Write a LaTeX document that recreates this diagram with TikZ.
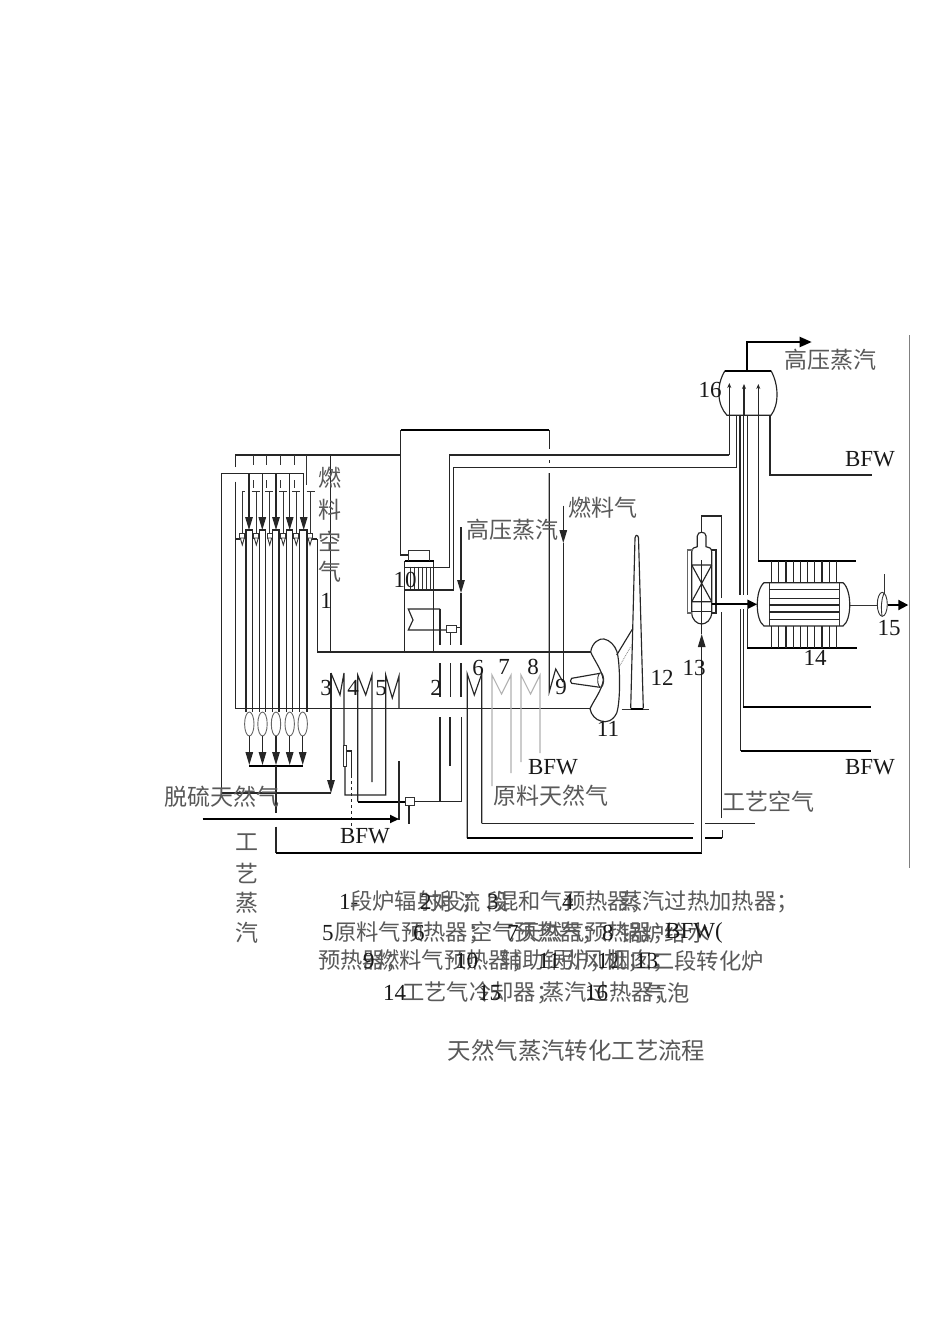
\documentclass[tikz,border=0pt]{standalone}
\usepackage{fontspec}
\setmainfont{Liberation Serif}
\newfontfamily\cjk{Noto Sans CJK SC}
\usetikzlibrary{arrows.meta}
\tikzset{
 ln/.style={draw=black!85,line width=1.15pt},
 thin ln/.style={draw=black!80,line width=0.9pt},
 thk/.style={draw=black,line width=2pt},
 pale/.style={draw=black!30,line width=1.1pt},
 arr/.style={-{Triangle[length=13pt,width=7.5pt]}},
 lab/.style={inner sep=0pt,font=\fontsize{23}{23}\selectfont,text=black!90},
 cn/.style={inner sep=0pt,font=\cjk\fontsize{23}{23}\selectfont,text=black!65},
 captxt/.style={inner sep=0pt,anchor=west,font=\cjk\fontsize{22.3}{22.3}\selectfont,text=black!65},
 capn/.style={inner sep=0pt,anchor=west,font=\fontsize{23}{23}\selectfont,text=black!90},
}
\begin{document}
\begin{tikzpicture}[x=1pt,y=-1pt]
\useasboundingbox (0,0) rectangle (950,1344);
\fill[white] (0,0) rectangle (950,1344);
% page edge
\draw[draw=black!50,line width=0.8pt] (909,335) -- (909,868);
% furnace
\draw[ln] (317.3,539) -- (317.3,652) -- (590.7,652);
\draw[ln] (235.7,708.7) -- (590,708.7);
\draw[ln] (235.7,539) -- (235.7,708.7);
\draw[ln] (330.3,455) -- (330.3,652);
% headers
\draw[ln] (235.7,467) -- (235.7,455) -- (400.7,455);
\foreach \x/\e in {253.7/465,266.7/465,280/465,294/465,306/485}{\draw[thin ln] (\x,455) -- (\x,\e);}
\foreach \x in {253.7,266.7,280,294}{\draw[thin ln] (\x,480) -- (\x,488);}
\draw[ln] (235.7,481.7) -- (235.7,539) -- (240,539);
\draw[ln] (310,539) -- (317.3,539);
\draw[ln] (331,793) -- (221.7,793) -- (221.7,473.7) -- (304,473.7);
% arrows into tubes
\foreach \x in {249,262.3,276,289.7,303.7}{\draw[ln,arr] (\x,473.7) -- (\x,530);}
% thin lines + T caps
\foreach \x/\a/\b in {242.3/242/245,256.3/251.7/260,269.7/265/273,283.3/279/287.3,296.3/292.3/300,310/306.7/315}{
 \draw[thin ln] (\x,491) -- (\x,533);
 \draw[thin ln] (\a,491) -- (\b,491);
 \draw[thin ln,fill=white] (\x-2.5,533) rectangle (\x+2.5,538);
 \draw[thin ln,fill=white] (\x-2,538) -- (\x+2,538) -- (\x,545) -- cycle;
}
% tubes
\foreach \a/\b in {246/252.3,259.3/265.7,272.7/279,286.3/292.7,299.3/307}{
 \draw[ln] (\a,712) -- (\a,530) -- (\b,530) -- (\b,712);
}
% ovals + lower arrows
\foreach \x in {249.3,262.5,276,289.7,302.7}{
 \draw[thin ln,draw=black!60] (\x,724) ellipse (4.7 and 12);
 \draw[ln,arr] (\x,736) -- (\x,765);
}
\draw[thk] (249.3,766) -- (302.7,766);
\draw[ln] (276,766) -- (276,813);
\draw[ln] (276,826.7) -- (276,852.7);
\draw[thk] (276,852.7) -- (701.7,852.7);
\draw[ln,arr] (701.7,852.7) -- (701.7,634);
\draw[ln] (701.7,634) -- (701.7,623);
% 3 4 5 coils
\draw[ln,arr] (331,673) -- (331,793);
\draw[ln] (331,673) -- (340,695) -- (344,673) -- (344,745);
\draw[thin ln,fill=white] (343,745) rectangle (346.5,766);
\draw[ln] (346.5,751) -- (351.7,751) -- (351.7,775);
\draw[ln,dashed] (351.7,775) -- (351.7,833);
\draw[ln] (345,766) -- (345,795) -- (385.7,795) -- (385.7,675) -- (392.3,698) -- (399,676) -- (399,708);
\draw[ln] (357.7,801.7) -- (357.7,675) -- (365.7,695) -- (372,675) -- (372,782);
\draw[thk] (357.7,801.7) -- (405,801.7);
\draw[ln] (399,761) -- (399,820);
\draw[thk,-{Triangle[length=9pt,width=8pt]}] (202.7,819) -- (399,819);
\draw[thin ln,fill=white] (405,797.7) rectangle (414.3,805.7);
\draw[ln] (409,805.7) -- (409,824);
% 2 section
\draw[ln] (414.3,801.7) -- (461.7,801.7) -- (461.7,717);
\draw[ln] (440,801.7) -- (440,717);
\draw[ln] (450,717) -- (450,766);
\foreach \x in {440,450.7,461}{\draw[ln] (\x,663) -- (\x,697);}
\draw[ln] (440,609) -- (440,645);
\draw[ln] (450.7,633) -- (450.7,645);
\draw[ln] (461,627.7) -- (461,645);
\draw[ln,arr] (461,527) -- (461,593);
\draw[ln] (461,593) -- (461,627.7) -- (456,627.7);
\draw[thin ln,fill=white] (446,625) rectangle (456,632.7);
\draw[ln] (446,630) -- (408.3,630) -- (413,620) -- (408.3,609) -- (440,609);
% fan stack 10
\draw[ln] (404.5,652) -- (404.5,561);
\draw[ln] (433.7,652) -- (433.7,561);
\draw[thk] (404.5,561) -- (433.7,561);
\draw[thin ln] (408.3,561) -- (408.3,550.7) -- (429.3,550.7) -- (429.3,561);
\foreach \x in {410,414,418,422,426,430}{\draw[thin ln] (\x,566.7) -- (\x,590);}
\draw[ln] (404.5,590) -- (453.3,590) -- (453.3,467.3) -- (736.7,467.3) -- (736.7,415);
\draw[ln] (404.5,567.7) -- (449.3,567.7) -- (449.3,455) -- (729.3,455);
\draw[ln,-{Stealth[length=5pt,width=4pt]}] (729.3,455) -- (729.3,383);
\draw[ln] (408.3,555) -- (400.7,555) -- (400.7,430);
\draw[thk] (400.7,430) -- (549.3,430);
\draw[ln] (549.3,430) -- (549.3,449);
\draw[ln] (549.3,460) -- (549.3,463);
\draw[ln] (549.3,473) -- (549.3,691.7) -- (555.7,669) -- (563,682);
\draw[ln,arr] (563.3,505.7) -- (563.3,543);
\draw[ln] (563.3,543) -- (563.3,682);
% 6 7 8
\draw[ln] (481.7,823.3) -- (481.7,674) -- (474.3,695) -- (467.3,674) -- (467.3,838);
\draw[thk] (467.3,838) -- (693.3,838);
\draw[thk] (705,838) -- (722.3,838);
\draw[ln] (722.3,838) -- (722.3,830);
\draw[ln] (481.7,823.3) -- (694.3,823.3);
\draw[ln] (705,823.3) -- (755,823.3);
\draw[pale] (492,786) -- (492,675) -- (501.5,694) -- (511,675) -- (511,773);
\draw[pale] (521,762) -- (521,675) -- (530.5,694) -- (540,675) -- (540,753);
% fan 11
\draw[ln] (590.7,652) .. controls (592,642) and (600,638) .. (604,639)
 .. controls (610,640) and (615,646) .. (616.7,651)
 .. controls (620,660) and (621,700) .. (616.7,713)
 .. controls (613,721) and (606,723) .. (601,721)
 .. controls (596,720) and (591,715) .. (590,708.7)
 .. controls (594,700) and (602,690) .. (603.3,680)
 .. controls (602,670) and (594,660) .. (590.7,652) -- cycle;
\draw[thin ln] (600.7,680) ellipse (3 and 7.2);
\draw[ln] (600,673.3) -- (571.7,678.3) .. controls (570,680) and (570,682) .. (571.7,683.3) -- (600,687.3);
% chimney 12
\draw[ln] (630.7,708.3) -- (635,538) .. controls (635.5,534.5) and (638,534.5) .. (638.5,538) -- (643.3,708.3);
\draw[thin ln] (621.7,709.3) -- (649.3,709.3);
\draw[thk] (630.7,708.6) -- (643.3,708.6);
\draw[ln] (616.7,655) -- (632.3,629.3);
\draw[draw=black!50,line width=0.8pt,densely dotted] (618.3,668.3) -- (630.7,646.7);
% tower 13
\draw[ln] (721.7,818) -- (721.7,611.7);
\draw[ln] (721.7,598) -- (721.7,516) -- (701.7,516) -- (701.7,531.7);
\draw[ln] (691.7,612) -- (691.7,552) .. controls (691.7,548) and (695,547) .. (697.3,546.7)
 -- (697.3,536) .. controls (697.3,531) and (706,531) .. (706,536) -- (706,546.7)
 .. controls (709,547) and (711.7,548) .. (711.7,552) -- (711.7,612)
 .. controls (711.7,620) and (706,624) .. (701.7,624) .. controls (697,624) and (691.7,620) .. (691.7,612) -- cycle;
\draw[ln] (691.7,565) -- (711.7,565) (691.7,601.7) -- (711.7,601.7) (691.7,565) -- (711.7,601.7) (711.7,565) -- (691.7,601.7);
\draw[ln] (691.7,611.7) -- (711.7,611.7);
\draw[ln] (701.7,560) -- (701.7,623);
\draw[draw=black!60,line width=1.6pt] (693,550) -- (687.5,550) -- (687.5,613) -- (692,613);
\draw[ln] (711,550) -- (716,550) -- (716,613) -- (711,613);
\draw[thk,-{Triangle[length=10pt,width=9pt]}] (711.7,604.3) -- (757.3,604.3);
% 16 drum
\draw[ln] (725,370.7) .. controls (716,385) and (717,405) .. (727,415.3) -- (771,415.3) .. controls (779,405) and (779,385) .. (771,370.7);
\draw[thk] (725,370.7) -- (771,370.7);
\draw[ln,-{Stealth[length=5pt,width=4pt]}] (744,415) -- (744,384);
\foreach \x in {740,743.5,747.5}{
 \draw[ln] (\x,415) -- (\x,595);
}
\draw[ln,-{Stealth[length=5pt,width=4pt]}] (758.3,560.7) -- (758.3,384);
\draw[thk] (758.3,560.7) -- (856,560.7);
\draw[ln] (770,415) -- (770,475) -- (871.7,475);
\draw[thk,-{Triangle[length=12pt,width=10pt]}] (747.3,370.7) -- (747.3,342) -- (811.7,342);
% lower service lines
\draw[ln] (740.7,609) -- (740.7,750.7);
\draw[thk] (740.7,750.7) -- (870.7,750.7);
\draw[ln] (743.3,609) -- (743.3,706.7);
\draw[thk] (743.3,706.7) -- (870.7,706.7);
\draw[ln] (747.3,609) -- (747.3,648.3);
\draw[thk] (747.3,648.3) -- (856.7,648.3);
% exchanger 14
\draw[ln] (764,582.7) .. controls (755,590) and (755,620) .. (764,626) -- (843,626) .. controls (852,620) and (852,590) .. (843,582.7) -- cycle;
\draw[thin ln] (769,582.7) -- (769,626) (839,582.7) -- (839,626);
\foreach \y in {589.3,598.3,605,611.7,619.3}{\draw[ln,line width=1.6pt] (769,\y) -- (839,\y);}
\foreach \i in {0,...,9}{
 \draw[ln] (771.7+\i*7.18,560.7) -- (771.7+\i*7.18,582.7);
 \draw[ln] (771.7+\i*7.18,626) -- (771.7+\i*7.18,648.3);
}
% 15
\draw[thin ln] (850,605) -- (877,605);
\draw[thin ln] (884,574) -- (884,593);
\draw[thin ln] (882.3,604.3) ellipse (5 and 12);
\draw[thin ln] (884,593) .. controls (881,600) and (881,608) .. (882,616);
\draw[thk,-{Triangle[length=10pt,width=10pt]}] (888,605) -- (908.3,605);
% labels
\node[lab] (n1) at (326,601) {1};
\node[lab] (n2) at (436,688) {2};
\node[lab] (n3) at (326,688) {3};
\node[lab] (n4) at (353,688) {4};
\node[lab] (n5) at (381,688) {5};
\node[lab] (n6) at (478,668) {6};
\node[lab] (n7) at (504,667) {7};
\node[lab] (n8) at (533,667) {8};
\node[lab] (n9) at (561,687) {9};
\node[lab] (n10) at (405,580) {10};
\node[lab] (n11) at (608,729) {11};
\node[lab] (n12) at (662,678) {12};
\node[lab] (n13) at (694,668) {13};
\node[lab] (n14) at (815,658) {14};
\node[lab] (n15) at (889,628) {15};
\node[lab] (n16) at (710,390) {16};
\node[lab] (b1) at (870,459) {BFW};
\node[lab] (b2) at (553,767) {BFW};
\node[lab] (b3) at (365,836) {BFW};
\node[lab] (b4) at (870,767) {BFW};
\node[cn] (t1) at (830,360) {高压蒸汽};
\node[cn] (t2) at (512,530) {高压蒸汽};
\node[cn] (t3) at (603,508) {燃料气};
\node[cn] (t4) at (551,796) {原料天然气};
\node[cn] (t5) at (768,802) {工艺空气};
\node[cn] (t6) at (222,797) {脱硫天然气};
\node[cn] (v1) at (330,478) {燃};
\node[cn] (v2) at (330,510) {料};
\node[cn] (v3) at (330,541) {空};
\node[cn] (v4) at (330,572) {气};
\node[cn] (w1) at (247,842) {工};
\node[cn] (w2) at (247,873) {艺};
\node[cn] (w3) at (247,903) {蒸};
\node[cn] (w4) at (247,933) {汽};
% caption line 1
\node[capn] (c11) at (339,902) {1-};
\node[captxt] (c12) at (350,902) {段炉辐射段；};
\node[capn] (c13) at (420,902) {2};
\node[captxt] (c14) at (431,902) {对};
\node[captxt] (c15) at (458,902) {流};
\node[captxt] (c16) at (486,902) {段};
\node[capn] (c17) at (487,902) {3};
\node[captxt] (c18) at (496,902) {混和气预热器；};
\node[capn] (c19) at (562,902) {4};
\node[captxt] (c1a) at (620,902) {蒸汽过热加热器；};
% caption line 2
\node[capn] (c21) at (322,933) {5};
\node[captxt] (c22) at (334,933) {原料气预热器；};
\node[capn] (c23) at (413,933) {6};
\node[captxt] (c24) at (470,933) {空气预热器；};
\node[capn] (c25) at (507,933) {7};
\node[captxt] (c26) at (518,933) {天然气预热器；};
\node[capn] (c27) at (602,933) {8};
\node[captxt] (c28) at (620,933) {锅炉给水};
\node[capn] (c29) at (665,933) {BFW(};
% caption line 3
\node[captxt] (c31) at (318,961) {预热器；};
\node[capn] (c32) at (363,961) {9};
\node[captxt] (c33) at (377,961) {燃料气预热器；};
\node[capn] (c34) at (455,961) {10};
\node[captxt] (c35) at (500,961) {辅助锅炉；};
\node[capn] (c36) at (538,961) {11};
\node[captxt] (c37) at (560,961) {引风机；};
\node[capn] (c38) at (597,961) {12};
\node[captxt] (c39) at (608,961) {烟囱；};
\node[capn] (c3a) at (635,961) {13};
\node[captxt] (c3b) at (652,961) {二段转化炉};
% caption line 4
\node[capn] (c41) at (383,993) {14};
\node[captxt] (c42) at (402,993) {工艺气冷却器；};
\node[capn] (c43) at (478,993) {15};
\node[captxt] (c44) at (542,993) {蒸汽过热器；};
\node[capn] (c45) at (585,993) {16};
\node[captxt] (c46) at (645,993) {气泡};
\node[cn,font=\cjk\fontsize{23.4}{23.4}\selectfont] (title) at (576.5,1051) {天然气蒸汽转化工艺流程};
\end{tikzpicture}
\end{document}
